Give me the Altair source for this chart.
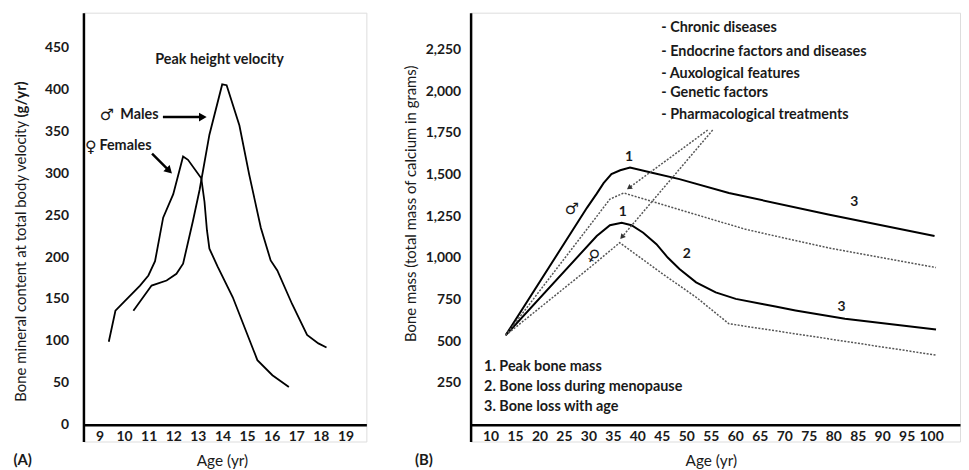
import altair as alt
import pandas as pd

FONT = "Lato"
SYMF = "DejaVu Sans"
INK = "#1a1a1a"

# ---------------- Panel A data ----------------
fem_age = [9.38, 9.65, 9.98, 10.65, 10.99, 11.26, 11.45, 11.59, 12.0, 12.4, 12.6, 13.14, 13.27, 13.37, 13.47, 13.8, 14.42, 15.42, 16.03, 16.7]
fem_val = [99, 136, 146, 166, 178, 195, 225, 247, 275, 320, 316, 294, 266, 232, 210, 189, 152, 77, 59, 45]
male_age = [10.38, 11.12, 11.73, 12.13, 12.4, 12.8, 13.07, 13.47, 13.99, 14.17, 14.69, 15.09, 15.56, 15.96, 16.23, 16.83, 17.44, 17.9, 18.23]
male_val = [136, 166, 172, 180, 192, 243, 280, 346, 406, 405, 357, 298, 235, 196, 184, 144, 107, 97, 92]
a_xticks = list(range(9, 20))
a_yticks = list(range(0, 451, 50))

a_text = ["Peak height velocity", "Males", "Females"]
a_text_x = [13.88, 9.85, 9.0]
a_text_y = [435, 370, 332]
a_text_align = ["center", "left", "left"]

a_sym = ["\u2642", "\u2640"]
a_sym_x = [9.3, 8.65]
a_sym_y = [369, 331]

a_arrow_x = [11.58, 11.14]
a_arrow_y = [367, 323.5]
a_arrow_x2 = [13.15, 11.80]
a_arrow_y2 = [367, 303.9]
a_arrow_ang = [90, 135]

a_unit = ["(g/yr)"]
a_unit_x = [5.81]
a_unit_y = [388]

# ---------------- Panel B data ----------------
b_male_age = [13.1, 29.7, 31.7, 33.1, 34.7, 36.5, 38.5, 43.0, 48.6, 58.7, 79.0, 100.7]
b_male_val = [536, 1300, 1385, 1448, 1502, 1525, 1542, 1510, 1472, 1389, 1260, 1131]
b_male_dot_age = [13.1, 34.4, 37.2, 62.1, 79.0, 101.0]
b_male_dot_val = [536, 1352, 1389, 1171, 1060, 942]
b_fem_age = [13.1, 31.7, 34.4, 36.8, 38.8, 41.2, 43.9, 46.2, 48.6, 52.0, 56.0, 60.1, 65.5, 68.2, 72.3, 82.4, 101.0]
b_fem_val = [536, 1131, 1196, 1210, 1196, 1151, 1082, 1002, 933, 853, 793, 754, 724, 708, 685, 635, 570]
b_fem_dot_age = [13.1, 30.3, 36.4, 45.2, 52.0, 58.7, 101.0]
b_fem_dot_val = [536, 942, 1091, 903, 764, 605, 417]
b_xticks = list(range(10, 101, 5))
b_yticks = list(range(250, 2251, 250))

b_factors = ["- Chronic diseases", "- Endocrine factors and diseases", "- Auxological features",
             "- Genetic factors", "- Pharmacological treatments"]
b_factor_y = [2375, 2232, 2101, 1988, 1857]
b_factor_x = 44.9

b_notes = ["1. Peak bone mass", "2. Bone loss during menopause", "3. Bone loss with age"]
b_notes_y = [347, 228, 108]
b_notes_x = 8.7

b_nums = ["1", "1", "3", "2", "3"]
b_nums_x = [38.3, 37.0, 84.3, 50.1, 81.7]
b_nums_y = [1607, 1276, 1333, 1022, 708]

b_sym = ["\u2642", "\u2640"]
b_sym_x = [26.6, 31.0]
b_sym_y = [1290, 1012]
b_sym_ang = [0, 30]

b_arrow_x = [54.36, 55.38]
b_arrow_y = [1766, 1766]
b_arrow_x2 = [38.44, 36.96]
b_arrow_y2 = [1423, 1129]
b_arrow_ang = [234, 220]

# ---------------- helpers ----------------
def series_df(pairs):
    rows = []
    for name, xs, ys in pairs:
        for i, (a, b) in enumerate(zip(xs, ys)):
            rows.append({"s": name, "i": i, "x": a, "y": b})
    return pd.DataFrame(rows)


def make_axes(xdom, ydom, xticks, yticks, xfmt, yfmt, x_title_x, y_title_x, y_title_y, ytitle, label_pad_y):
    sx = alt.Scale(domain=xdom, nice=False, zero=False)
    sy = alt.Scale(domain=ydom, nice=False, zero=False)
    ax = alt.Axis(values=xticks, format=xfmt, grid=False, ticks=False, domainColor="black", domainWidth=2.5,
                  labelFont=FONT, labelFontSize=14, labelFontWeight="bold", labelColor=INK, labelPadding=5,
                  labelFlush=False, labelOverlap=False, offset=-17,
                  title="Age (yr)", titleFont=FONT, titleFontSize=15.5, titleFontWeight="normal", titleColor=INK,
                  titleX=x_title_x, titleY=36, titleBaseline="middle", titleAlign="center")
    ay = alt.Axis(values=yticks, format=yfmt, grid=False, ticks=False, domainColor="black", domainWidth=2.5,
                  labelFont=FONT, labelFontSize=14, labelFontWeight="bold", labelColor=INK, labelPadding=label_pad_y,
                  labelFlush=False, labelOverlap=False,
                  title=ytitle, titleFont=FONT, titleFontSize=15, titleFontWeight="normal", titleColor=INK,
                  titleX=y_title_x, titleY=y_title_y, titleAngle=270, titleBaseline="middle", titleAlign="center")
    return sx, sy, ax, ay


def text_layer(df, x, y, size, weight="bold", align="left", font=FONT, angle=None):
    kw = dict(font=font, fontSize=size, fontWeight=weight, color=INK, align=align, baseline="middle")
    if angle is not None and not isinstance(angle, bool):
        kw["angle"] = angle
    enc = dict(x=x, y=y, text="t:N")
    if angle is True:
        enc["angle"] = alt.Angle("ang:Q", scale=None)
    return alt.Chart(df).mark_text(**kw).encode(**enc)


# ---------------- Panel A ----------------
sxA, syA, axA, ayA = make_axes([8.35, 19.85], [-20.1, 491.6], a_xticks, a_yticks, "d", "d",
                               139.5, -63, 250, "Bone mineral content at total body velocity", 15)

def XA(f="x"):
    return alt.X(f"{f}:Q", scale=sxA, axis=axA)

def YA(f="y"):
    return alt.Y(f"{f}:Q", scale=syA, axis=ayA)

dfA = series_df([("Females", fem_age, fem_val), ("Males", male_age, male_val)])
linesA = alt.Chart(dfA).mark_line(color="black", strokeWidth=1.8).encode(
    x=XA(), y=YA(), detail="s:N", order="i:Q")

txtA = pd.DataFrame({"x": a_text_x, "y": a_text_y, "t": a_text, "al": a_text_align})
txtA_c = text_layer(txtA[txtA.al == "center"], XA(), YA(), 14.5, align="center")
txtA_l = text_layer(txtA[txtA.al == "left"], XA(), YA(), 14.5, align="left")
symA = text_layer(pd.DataFrame({"x": a_sym_x, "y": a_sym_y, "t": a_sym}), XA(), YA(), 16,
                  weight="normal", align="center", font=SYMF)
unitA = text_layer(pd.DataFrame({"x": a_unit_x, "y": a_unit_y, "t": a_unit}), XA(), YA(), 15,
                   weight="bold", align="center", angle=270)

arrA = pd.DataFrame({"x": a_arrow_x, "y": a_arrow_y, "x2": a_arrow_x2, "y2": a_arrow_y2, "ang": a_arrow_ang})
arrA_r = alt.Chart(arrA).mark_rule(color="black", strokeWidth=2.5).encode(x=XA(), y=YA(), x2="x2:Q", y2="y2:Q")
arrA_h = alt.Chart(arrA).mark_point(shape="triangle", filled=True, color="black", size=80, opacity=1).encode(
    x=XA("x2"), y=YA("y2"), angle=alt.Angle("ang:Q", scale=None))

labA = text_layer(pd.DataFrame({"x": [5.88], "y": [-42.7], "t": ["(A)"]}), XA(), YA(), 15, align="center")

panelA = alt.layer(linesA, txtA_c, txtA_l, symA, unitA, arrA_r, arrA_h, labA).properties(width=285, height=432)

# ---------------- Panel B ----------------
sxB, syB, axB, ayB = make_axes([5.94, 105.9], [-101, 2470], b_xticks, b_yticks, "d", ",d",
                               242, -60, 192, "Bone mass (total mass of calcium in grams)", 10)

def XB(f="x"):
    return alt.X(f"{f}:Q", scale=sxB, axis=axB)

def YB(f="y"):
    return alt.Y(f"{f}:Q", scale=syB, axis=ayB)

dfB_s = series_df([("Male", b_male_age, b_male_val), ("Female", b_fem_age, b_fem_val)])
dfB_d = series_df([("MaleD", b_male_dot_age, b_male_dot_val), ("FemaleD", b_fem_dot_age, b_fem_dot_val)])
linesB = alt.Chart(dfB_s).mark_line(color="black", strokeWidth=2).encode(
    x=XB(), y=YB(), detail="s:N", order="i:Q")
dotsB = alt.Chart(dfB_d).mark_line(color="#555555", strokeWidth=1.5, strokeDash=[2, 1.5]).encode(
    x=XB(), y=YB(), detail="s:N", order="i:Q")

facB = text_layer(pd.DataFrame({"x": [b_factor_x] * len(b_factors), "y": b_factor_y, "t": b_factors}),
                  XB(), YB(), 14.5)
notesB = text_layer(pd.DataFrame({"x": [b_notes_x] * len(b_notes), "y": b_notes_y, "t": b_notes}),
                    XB(), YB(), 14.5)
numsB = text_layer(pd.DataFrame({"x": b_nums_x, "y": b_nums_y, "t": b_nums}), XB(), YB(), 14, align="center")
symB = text_layer(pd.DataFrame({"x": b_sym_x, "y": b_sym_y, "t": b_sym, "ang": b_sym_ang}), XB(), YB(), 16,
                  weight="normal", align="center", font=SYMF, angle=True)

arrB = pd.DataFrame({"x": b_arrow_x, "y": b_arrow_y, "x2": b_arrow_x2, "y2": b_arrow_y2, "ang": b_arrow_ang})
arrB_r = alt.Chart(arrB).mark_rule(color="#555555", strokeWidth=1.5, strokeDash=[2, 1.5]).encode(
    x=XB(), y=YB(), x2="x2:Q", y2="y2:Q")
arrB_h = alt.Chart(arrB).mark_point(shape="triangle", filled=True, color="#333333", size=35, opacity=1).encode(
    x=XB("x2"), y=YB("y2"), angle=alt.Angle("ang:Q", scale=None))

labB = text_layer(pd.DataFrame({"x": [-3.6], "y": [-214], "t": ["(B)"]}), XB(), YB(), 15, align="center")

panelB = alt.layer(linesB, dotsB, arrB_r, arrB_h, facB, notesB, numsB, symB, labB).properties(width=493, height=432)

chart = alt.hconcat(panelA, panelB, spacing=105, bounds="flush").properties(
    padding={"left": 4, "top": 2, "right": 0, "bottom": 0}
).configure_view(stroke=None).configure(background="white")

chart.save("out.html", embed_options={"renderer": "svg", "actions": False})
